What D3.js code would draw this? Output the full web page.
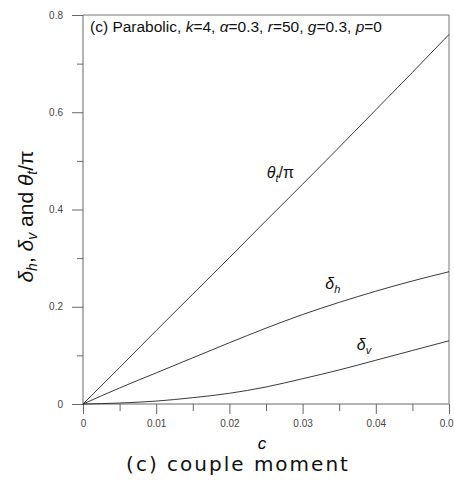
<!DOCTYPE html>
<html>
<head>
<meta charset="utf-8">
<script src="https://cdn.jsdelivr.net/npm/d3@7"></script>
<style>
  body { margin: 0; background: #fff; }
  svg { display: block; }
  .axis text { font-family: "Liberation Sans", Arial, sans-serif; font-size: 10px; fill: #444; }
  .axis path, .axis line { stroke: #666; }
</style>
</head>
<body>
<script>
const width = 454;
const height = 484;
const margin = {left: 83, right: 5, top: 15, bottom: 80};
const w = width - margin.left - margin.right;
const h = height - margin.top - margin.bottom;

// data
const cValues   = [0, 0.005, 0.01, 0.015, 0.02, 0.025, 0.03, 0.035, 0.04, 0.045, 0.05];
const thetaPi   = [0, 0.075, 0.151, 0.226, 0.301, 0.377, 0.452, 0.528, 0.605, 0.682, 0.76];
const deltaH    = [0, 0.033, 0.064, 0.095, 0.126, 0.156, 0.184, 0.209, 0.232, 0.253, 0.272];
const deltaV    = [0, 0.002, 0.006, 0.013, 0.022, 0.035, 0.052, 0.07, 0.09, 0.11, 0.13];
const xTicks    = [0, 0.01, 0.02, 0.03, 0.04, 0.05];
const yTicks    = [0, 0.2, 0.4, 0.6, 0.8];

const svg = d3.select('body').append('svg')
    .attr('width', width)
    .attr('height', height)
    .append('g')
        .attr('transform', `translate(${margin.left}, ${margin.top})`);

const xScale = d3.scaleLinear().domain([0, 0.05]).range([0, w]);
const yScale = d3.scaleLinear().domain([0, 0.8]).range([h, 0]);

// minor ticks first
svg.append('g')
    .attr('class', 'axis')
    .attr('transform', `translate(0, ${h})`)
    .call(d3.axisBottom(xScale).tickValues(d3.range(0.005, 0.05, 0.01)).tickSize(7).tickFormat(''))
    .select('.domain').remove();
svg.append('g')
    .attr('class', 'axis')
    .call(d3.axisLeft(yScale).tickValues(d3.range(0.1, 0.8, 0.2)).tickSize(6).tickFormat(''))
    .select('.domain').remove();

svg.append('g')
    .attr('class', 'axis')
    .attr('transform', `translate(0, ${h})`)
    .call(d3.axisBottom(xScale).tickValues(xTicks).tickSize(10).tickPadding(6)
        .tickFormat(d => d === 0 ? '0' : d3.format('.2f')(d)))
    .call(g => g.select('.domain').attr('d', `M0,0H${w}`));

svg.append('g')
    .attr('class', 'axis')
    .call(d3.axisLeft(yScale).tickValues(yTicks).tickSize(11).tickPadding(9)
        .tickFormat(d => d === 0 ? '0' : d3.format('.1f')(d)))
    .call(g => g.select('.domain').attr('d', `M0,${h}V0`));

// frame top and right
svg.append('path')
    .attr('d', `M0,0H${w}V${h}`)
    .attr('fill', 'none')
    .attr('stroke', '#777');

const line = d3.line()
    .x((d, i) => xScale(cValues[i]))
    .y(d => yScale(d))
    .curve(d3.curveMonotoneX);

[thetaPi, deltaH, deltaV].forEach(series => {
    svg.append('path')
        .datum(series)
        .attr('d', line)
        .attr('fill', 'none')
        .attr('stroke', '#222')
        .attr('stroke-width', 0.9);
});

// curve labels
const labelFont = '"Liberation Sans", Arial, sans-serif';
function curveLabel(x, y, main, sub, tail) {
    const t = svg.append('text')
        .attr('x', x).attr('y', y)
        .style('font-family', labelFont)
        .style('font-size', '16px')
        .attr('fill', '#111');
    t.append('tspan').style('font-style', 'italic').text(main);
    t.append('tspan').style('font-style', 'italic').style('font-size', '11px')
        .attr('dy', 4).text(sub);
    if (tail) t.append('tspan').attr('dy', -4).text(tail);
}
curveLabel(xScale(0.0251), yScale(0.465), 'θ', 't', '/π');
curveLabel(xScale(0.0331), yScale(0.237), 'δ', 'h');
curveLabel(xScale(0.0374), yScale(0.112), 'δ', 'v');

// annotation
const note = svg.append('text')
    .attr('x', 7).attr('y', 17)
    .style('font-family', labelFont)
    .style('font-size', '15.5px')
    .attr('fill', '#111');
[['(c) Parabolic, ', false], ['k', true], ['=4, ', false], ['α', true], ['=0.3, ', false],
 ['r', true], ['=50, ', false], ['g', true], ['=0.3, ', false], ['p', true], ['=0', false]]
    .forEach(([s, it]) => note.append('tspan').style('font-style', it ? 'italic' : 'normal').text(s));

drawLabels(svg, w, h);

function drawLabels(surface, w, h) {
    surface.append('text')
        .text('c')
        .attr('x', w / 2 - 4)
        .attr('y', h + 45)
        .attr('text-anchor', 'middle')
        .style('font-family', labelFont)
        .style('font-size', '17px')
        .style('font-style', 'italic');

    surface.append('text')
        .text('(c) couple moment')
        .attr('x', w / 2 - 28)
        .attr('y', h + 67)
        .attr('text-anchor', 'middle')
        .style('font-family', '"DejaVu Sans", sans-serif')
        .style('font-size', '20px')
        .style('letter-spacing', '2px')
        .attr('fill', '#111');

    const yl = surface.append('text')
        .attr('transform', `translate(-50, ${h / 2 + 7}) rotate(-90)`)
        .attr('text-anchor', 'middle')
        .style('font-family', labelFont)
        .style('font-size', '21px')
        .attr('fill', '#111');
    yl.append('tspan').style('font-style', 'italic').text('δ');
    yl.append('tspan').style('font-style', 'italic').style('font-size', '14px').attr('dy', 4).text('h');
    yl.append('tspan').attr('dy', -4).text(', ');
    yl.append('tspan').style('font-style', 'italic').text('δ');
    yl.append('tspan').style('font-style', 'italic').style('font-size', '14px').attr('dy', 4).text('v');
    yl.append('tspan').attr('dy', -4).text(' and ');
    yl.append('tspan').style('font-style', 'italic').text('θ');
    yl.append('tspan').style('font-style', 'italic').style('font-size', '14px').attr('dy', 4).text('t');
    yl.append('tspan').attr('dy', -4).text('/π');
}
</script>
</body>
</html>
